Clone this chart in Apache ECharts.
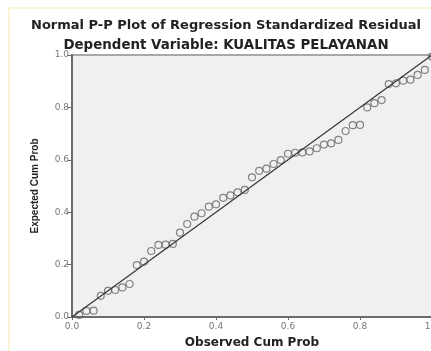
<!DOCTYPE html>
<html>
<head>
<meta charset="utf-8">
<script src="https://cdn.jsdelivr.net/npm/echarts@6/dist/echarts.min.js"></script>
<style>
html,body{margin:0;padding:0;background:#fff;}
#chart{width:431px;height:351px;}
</style>
</head>
<body>
<div id="chart"></div>
<script>
var titleText = "Normal P-P Plot of Regression Standardized Residual";
var subtitleText = "Dependent Variable: KUALITAS PELAYANAN";
var xName = "Observed Cum Prob";
var yName = "Expected Cum Prob";
var observed = [0.02,0.04,0.06,0.08,0.10,0.12,0.14,0.16,0.18,0.20,
                0.22,0.24,0.26,0.28,0.30,0.32,0.34,0.36,0.38,0.40,
                0.42,0.44,0.46,0.48,0.50,0.52,0.54,0.56,0.58,0.60,
                0.62,0.64,0.66,0.68,0.70,0.72,0.74,0.76,0.78,0.80,
                0.82,0.84,0.86,0.88,0.90,0.92,0.94,0.96,0.98,1.00];
var expected = [0.008,0.023,0.024,0.081,0.100,0.103,0.113,0.126,0.198,0.211,
                0.252,0.275,0.276,0.279,0.322,0.355,0.383,0.396,0.421,0.430,
                0.455,0.464,0.476,0.485,0.533,0.558,0.566,0.584,0.599,0.623,
                0.627,0.628,0.632,0.644,0.658,0.663,0.676,0.710,0.732,0.733,
                0.800,0.816,0.828,0.889,0.892,0.902,0.906,0.924,0.943,0.994];
var refLine = [[0,0],[1,1]];

var pts = observed.map(function(x,i){return [x, expected[i]];});
var chart = echarts.init(document.getElementById('chart'));
chart.setOption({
  animation:false,
  backgroundColor:'#fff',
  graphic:[
    {type:'line', shape:{x1:9,y1:8,x2:9,y2:351}, style:{stroke:'#f8f2c4', lineWidth:1.5}},
    {type:'line', shape:{x1:9,y1:8,x2:431,y2:8}, style:{stroke:'#f8f2c4', lineWidth:1.5}},
    {type:'text', x:226, y:26, style:{text:titleText, textAlign:'center', textVerticalAlign:'middle',
      font:'bold 13px "DejaVu Sans"', fill:'#222'}},
    {type:'text', x:226, y:46, style:{text:subtitleText, textAlign:'center', textVerticalAlign:'middle',
      font:'bold 13.4px "DejaVu Sans"', fill:'#222'}}
  ],
  grid:{left:72, top:55, width:360, height:262, outerBoundsMode:'none', containLabel:false,
        show:true, backgroundColor:'#f0f0f0', borderColor:'#a8a8a8', borderWidth:2},
  xAxis:{
    type:'value', min:0, max:1, interval:0.2,
    name:xName, nameLocation:'middle', nameGap:20, nameMoveOverlap:false,
    nameTextStyle:{fontFamily:'DejaVu Sans', fontWeight:'bold', fontSize:12, color:'#222'},
    axisLine:{show:true, onZero:false, lineStyle:{color:'#6a6a6a', width:2}},
    axisTick:{show:true, length:3, lineStyle:{color:'#6a6a6a'}},
    axisLabel:{margin:5, fontFamily:'DejaVu Sans', fontSize:9, color:'#777', formatter:function(v){return v.toFixed(1);}},
    splitLine:{show:false}
  },
  yAxis:{
    type:'value', min:0, max:1, interval:0.2,
    name:yName, nameLocation:'middle', nameGap:32, nameMoveOverlap:false,
    nameTextStyle:{fontFamily:'Liberation Sans', fontWeight:'bold', fontSize:10, color:'#222'},
    axisLine:{show:true, onZero:false, lineStyle:{color:'#6a6a6a', width:2}},
    axisTick:{show:true, length:5, lineStyle:{color:'#6a6a6a'}},
    axisLabel:{margin:3, fontFamily:'DejaVu Sans', fontSize:9, color:'#777', formatter:function(v){return v.toFixed(1);}},
    splitLine:{show:false}
  },
  series:[{
    type:'scatter', data:pts, symbol:'circle', symbolSize:7,
    itemStyle:{color:'rgba(0,0,0,0)', borderColor:'#666', borderWidth:1.2}
  },{
    type:'line', data:refLine, symbol:'none', z:5,
    lineStyle:{color:'#333', width:1.2}
  }]
});
</script>
</body>
</html>
